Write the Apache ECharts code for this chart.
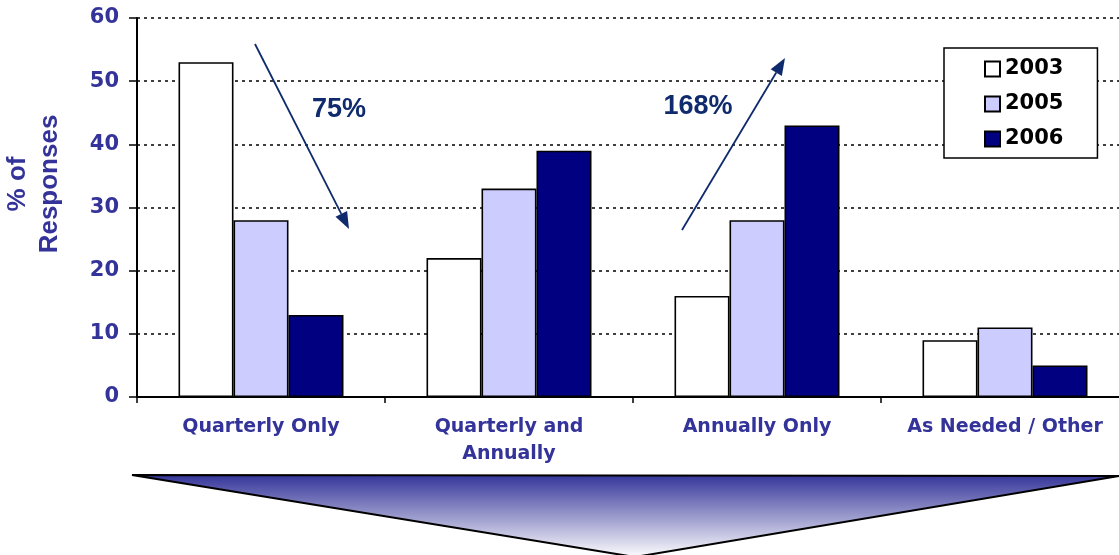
<!DOCTYPE html>
<html>
<head>
<meta charset="utf-8">
<script src="https://cdn.jsdelivr.net/npm/echarts@6/dist/echarts.min.js"></script>
<style>
  html, body { margin: 0; padding: 0; background: #ffffff; }
  #chart { width: 1119px; height: 555px; }
</style>
</head>
<body>
<div id="chart"></div>
<script>
// Review frequency survey: share of responses per year
const categories = ['Quarterly Only', 'Quarterly and\nAnnually', 'Annually Only', 'As Needed / Other'];
const years = ['2003', '2005', '2006'];
const values2003 = [53, 22, 16, 9];
const values2005 = [28, 33, 28, 11];
const values2006 = [13, 39, 43, 5];
const yTicks = { min: 0, max: 60, interval: 10 };
const changeLabels = ['75%', '168%'];

const LABEL_BLUE = '#333399';
const ARROW_BLUE = '#0f2b6e';

// Straight arrow: shaft plus a filled triangular head at the end point
function arrow(x1, y1, x2, y2) {
  const dx = x2 - x1, dy = y2 - y1;
  const len = Math.sqrt(dx * dx + dy * dy);
  const ux = dx / len, uy = dy / len;
  const headLen = 17, headHalf = 6.5;
  const bx = x2 - ux * headLen, by = y2 - uy * headLen;
  return [
    {
      type: 'line',
      shape: { x1: x1, y1: y1, x2: bx, y2: by },
      style: { stroke: ARROW_BLUE, lineWidth: 1.8 },
      z: 10
    },
    {
      type: 'polygon',
      shape: { points: [[x2, y2], [bx - uy * headHalf, by + ux * headHalf], [bx + uy * headHalf, by - ux * headHalf]] },
      style: { fill: ARROW_BLUE },
      z: 10
    }
  ];
}

const chart = echarts.init(document.getElementById('chart'));

const barStyle = (fill) => ({ color: fill, borderColor: '#000000', borderWidth: 1.6 });

chart.setOption({
  backgroundColor: '#ffffff',
  animation: false,
  grid: { left: 137, top: 18, right: -10, bottom: 158, outerBoundsMode: 'none' },
  legend: {
    orient: 'vertical',
    left: 944,
    top: 48,
    data: years,
    icon: 'rect',
    itemWidth: 15,
    itemHeight: 15,
    itemGap: 13,
    itemTextGap: 7,
    padding: [10, 34, 8, 40],
    backgroundColor: '#ffffff',
    borderColor: '#000000',
    borderWidth: 1.5,
    borderRadius: 0,
    textStyle: {
      fontFamily: 'DejaVu Sans',
      fontWeight: 'bold',
      fontSize: 21,
      lineHeight: 22,
      color: '#000000'
    },
    z: 20
  },
  xAxis: {
    type: 'category',
    data: categories,
    axisLine: { show: true, lineStyle: { color: '#000000', width: 2 } },
    axisTick: { show: true, length: 6, lineStyle: { color: '#000000', width: 1.5 } },
    axisLabel: {
      interval: 0,
      margin: 17,
      fontFamily: 'DejaVu Sans',
      fontWeight: 'bold',
      fontSize: 19,
      lineHeight: 27,
      color: LABEL_BLUE
    },
    splitLine: { show: false }
  },
  yAxis: {
    type: 'value',
    min: yTicks.min,
    max: yTicks.max,
    interval: yTicks.interval,
    axisLine: { show: true, lineStyle: { color: '#000000', width: 2 } },
    axisTick: { show: true, length: 8, lineStyle: { color: '#000000', width: 1.5 } },
    axisLabel: {
      margin: 18,
      fontFamily: 'DejaVu Sans',
      fontWeight: 'bold',
      fontSize: 21,
      color: LABEL_BLUE
    },
    splitLine: { show: true, lineStyle: { color: '#000000', width: 1.5, type: [3, 4] } }
  },
  series: [
    { name: years[0], type: 'bar', data: values2003, barWidth: 55, barGap: '0%', itemStyle: barStyle('#ffffff') },
    { name: years[1], type: 'bar', data: values2005, barWidth: 55, barGap: '0%', itemStyle: barStyle('#ccccff') },
    { name: years[2], type: 'bar', data: values2006, barWidth: 55, barGap: '0%', itemStyle: barStyle('#000080') }
  ],
  graphic: [
    // axis title
    {
      type: 'text',
      x: 34,
      y: 184,
      rotation: Math.PI / 2,
      style: {
        text: '% of\nResponses',
        fontFamily: 'Liberation Sans',
        fontWeight: 'bold',
        fontSize: 26,
        lineHeight: 32,
        fill: LABEL_BLUE,
        align: 'center',
        verticalAlign: 'middle'
      }
    },
    ...arrow(255, 44, 349, 229),
    ...arrow(682, 230, 785, 58),
    {
      type: 'text',
      x: 339,
      y: 110,
      style: {
        text: changeLabels[0],
        fontFamily: 'Liberation Sans',
        fontWeight: 'bold',
        fontSize: 27,
        fill: ARROW_BLUE,
        align: 'center',
        verticalAlign: 'middle'
      },
      z: 10
    },
    {
      type: 'text',
      x: 698,
      y: 107,
      style: {
        text: changeLabels[1],
        fontFamily: 'Liberation Sans',
        fontWeight: 'bold',
        fontSize: 27,
        fill: ARROW_BLUE,
        align: 'center',
        verticalAlign: 'middle'
      },
      z: 10
    },
    // funnel banner under the categories
    {
      type: 'polygon',
      shape: { points: [[132, 475], [1119, 476], [635, 557]] },
      style: {
        fill: new echarts.graphic.LinearGradient(0, 0, 0, 1, [
          { offset: 0, color: '#333399' },
          { offset: 1, color: '#ffffff' }
        ]),
        stroke: '#000000',
        lineWidth: 2
      }
    }
  ]
});
</script>
</body>
</html>
